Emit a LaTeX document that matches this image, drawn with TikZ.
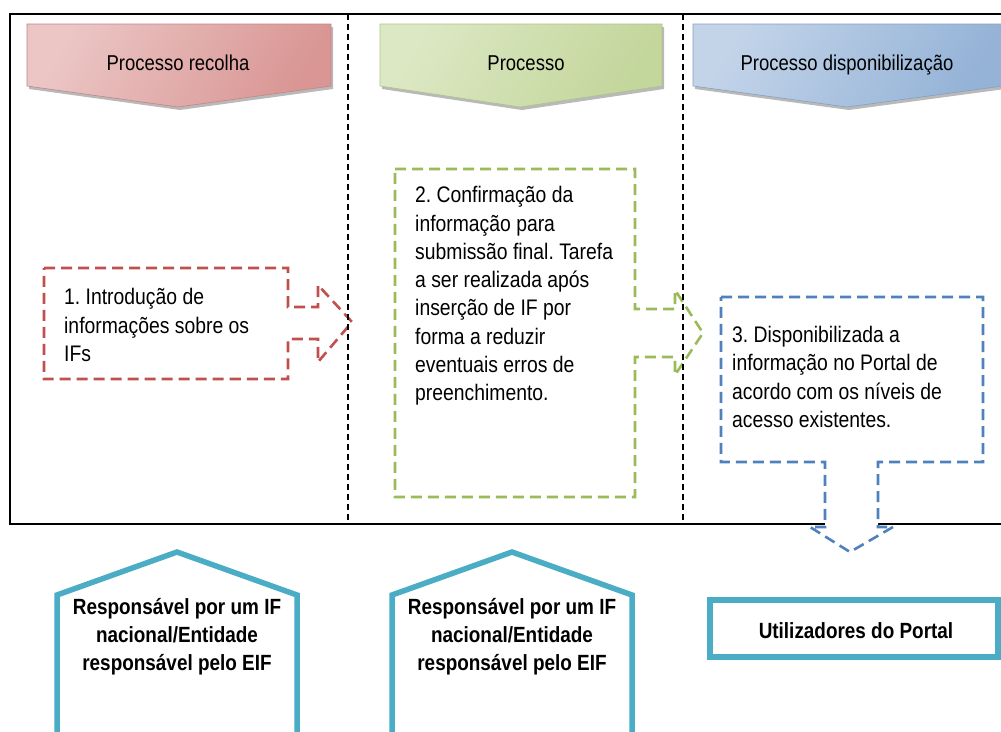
\documentclass[tikz,border=0pt]{standalone}
\usepackage{fontspec}
\setmainfont{Liberation Sans}
\newfontfamily\condfont[FakeStretch=0.86]{Liberation Sans}
\frenchspacing

\definecolor{redD}{HTML}{D99694}
\definecolor{redM}{HTML}{EBC6C5}
\definecolor{redL}{HTML}{F4E2E1}
\definecolor{greenD}{HTML}{C3D69B}
\definecolor{greenM}{HTML}{DCE8C4}
\definecolor{greenL}{HTML}{EEF4E3}
\definecolor{blueD}{HTML}{95B3D7}
\definecolor{blueM}{HTML}{C3D4E9}
\definecolor{blueL}{HTML}{E0E8F3}
\definecolor{calRed}{HTML}{C0504D}
\definecolor{calGreen}{HTML}{9BBB59}
\definecolor{calBlue}{HTML}{4F81BD}
\definecolor{teal}{HTML}{4BACC6}

\tikzset{
  chevron/.style={draw=#1D!90!black, line width=0.6pt,
    left color=#1M, middle color=#1L, right color=#1D, shading angle=60},
  chevshadow/.style={fill=gray!55},
  callout/.style={draw=#1, line width=2.6pt, dash pattern=on 11pt off 6pt, line join=miter},
  lanesep/.style={draw=black, line width=1.6pt, dash pattern=on 6pt off 4pt},
  headtext/.style={font=\condfont\fontsize{21.5}{26}\selectfont, inner sep=0pt, anchor=base},
  bodytext/.style={font=\condfont\fontsize{22.5}{28.3}\selectfont, align=left, inner sep=0pt, anchor=west},
  roletext/.style={font=\condfont\bfseries\fontsize{22}{28}\selectfont, align=center, inner sep=0pt},
  rolebox/.style={draw=teal, line width=5.5pt, line join=miter},
}

\begin{document}
\begin{tikzpicture}[x=1pt, y=-1pt]
  \clip (0,0) rectangle (1001,731);
  \fill[white] (0,0) rectangle (1001,731);

  % outer frame of the three lanes
  \draw[line width=2pt] (10,14) rectangle (1020,524);

  % lane headers: downward chevrons with a soft shadow
  \foreach \xa/\xm/\xb/\c in {27/178/331/red, 380/520/662/green, 693/847/1003/blue}{
    \fill[chevshadow] (\xa+2,27) -- (\xb+2,27) -- (\xb+2,89) -- (\xm+2,110) -- (\xa+2,89) -- cycle;
    \path[chevron=\c] (\xa,24) -- (\xb,24) -- (\xb,86) -- (\xm,107) -- (\xa,86) -- cycle;
  }
  \node[headtext] (h1) at (178,70) {Processo recolha};
  \node[headtext] (h2) at (526,70) {Processo};
  \node[headtext] (h3) at (847,70) {Processo disponibiliza\c{c}\~ao};

  % step 1 and step 2: right-arrow callouts
  \draw[callout=calRed] (44,268) -- (288,268) -- (288,307) -- (318,307) -- (318,285)
    -- (352,322) -- (318,362) -- (318,339) -- (288,339) -- (288,379) -- (44,379) -- cycle;
  \draw[callout=calGreen] (395,169) -- (635,169) -- (635,309) -- (675,309) -- (675,290)
    -- (703,333) -- (675,375) -- (675,357) -- (635,357) -- (635,497) -- (395,497) -- cycle;

  % lane separators
  \draw[lanesep] (348,14) -- (348,524);
  \draw[lanesep] (683,14) -- (683,524);

  % step 3: down-arrow callout over the frame
  \draw[callout=calBlue, fill=white] (721,297) -- (983,297) -- (983,462) -- (878,462)
    -- (878,527) -- (893,527) -- (850,552) -- (810,527) -- (825,527) -- (825,462)
    -- (721,462) -- cycle;

  \node[bodytext] (t1) at (64,325) {1. Introdu\c{c}\~ao de\\informa\c{c}\~oes sobre os\\IFs};
  \node[bodytext] (t2) at (415,296) {2. Confirma\c{c}\~ao da\\informa\c{c}\~ao para\\submiss\~ao final. Tarefa\\a ser realizada ap\'os\\inser\c{c}\~ao de IF por\\forma a reduzir\\eventuais erros de\\preenchimento.};
  \node[bodytext] (t3) at (732,377) {3. Disponibilizada a\\informa\c{c}\~ao no Portal de\\acordo com os n\'iveis de\\acesso existentes.};

  % actors below the lanes
  \draw[rolebox] (57,745) -- (57,595) -- (177,552) -- (297,595) -- (297,745);
  \draw[rolebox] (392,745) -- (392,595) -- (512,552) -- (632,595) -- (632,745);
  \draw[rolebox] (710,600) rectangle (998,657);

  \node[roletext] (r1) at (177,637) {Respons\'avel por um IF\\nacional/Entidade\\respons\'avel pelo EIF};
  \node[roletext] (r2) at (512,637) {Respons\'avel por um IF\\nacional/Entidade\\respons\'avel pelo EIF};
  \node[roletext] (u) at (856,631) {Utilizadores do Portal};
\end{tikzpicture}
\end{document}
